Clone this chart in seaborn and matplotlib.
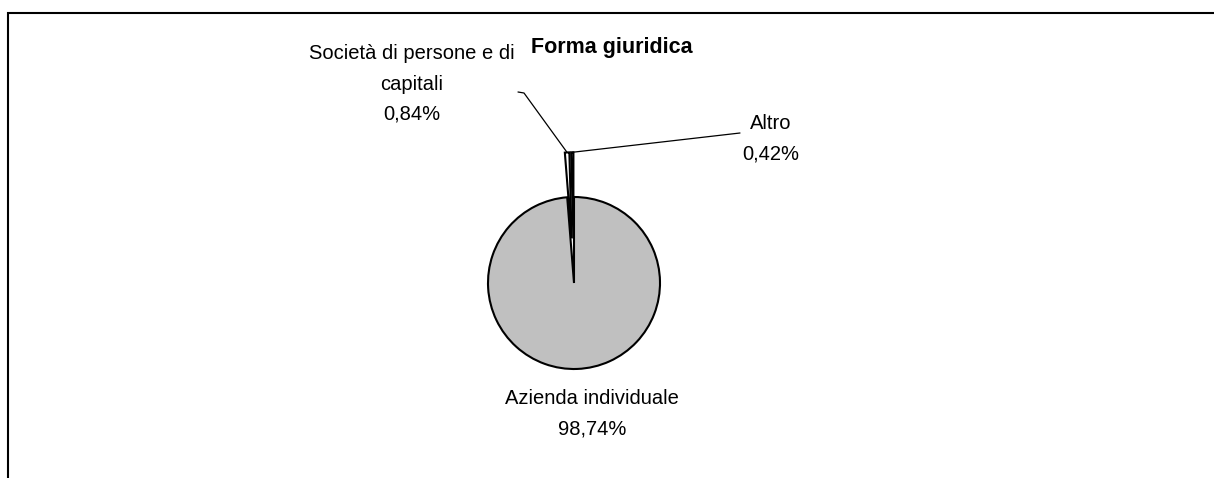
import numpy as np
import matplotlib
matplotlib.use("Agg")
import matplotlib.pyplot as plt
import matplotlib.patches as mpatches
import seaborn as sns

# data
categories = ["Azienda individuale", "Società di persone e di\ncapitali", "Altro"]
shares = [98.74, 0.84, 0.42]
explode = [0.0, 0.52, 0.52]
slice_colors = ["#c0c0c0", "white", "white"]
title = "Forma giuridica"

sns.set_theme(style="white", rc={"text.color": "black"})
plt.rcParams["font.family"] = ["Liberation Sans", "DejaVu Sans"]

W, H = 1214, 478
CX, CY, R = 574, 283, 86   # pie centre / radius in pixels


def px(x, y):
    # pixel (top-left origin) -> data units of the pie axes
    return (x - CX) / R, (CY - y) / R


fig = plt.figure(figsize=(W / 100, H / 100), dpi=100)
ax = fig.add_axes([0, 0, 1, 1])

wedges, _ = ax.pie(shares, explode=explode, colors=slice_colors, startangle=90,
                   counterclock=False, radius=1,
                   wedgeprops={"edgecolor": "black", "linewidth": 1.5})

ax.set_xlim(-CX / R, (W - CX) / R)
ax.set_ylim(-(H - CY) / R, CY / R)
ax.set_aspect("auto")
ax.axis("off")

labels = [f"{c}\n{v:.2f}%".replace(".", ",") for c, v in zip(categories, shares)]
label_pos = [(592, 414), (412, 84), (771, 139)]
leader_ends = [None, [(524, 93), (518, 92)], [(740, 133)]]

for w, lab, pos, ends in zip(wedges, labels, label_pos, leader_ends):
    lx, ly = px(*pos)
    ax.text(lx, ly, lab, ha="center", va="center", multialignment="center",
            fontsize=14.5, linespacing=1.75, color="black")
    if ends is None:
        continue
    mid = np.deg2rad((w.theta1 + w.theta2) / 2)
    sx = w.center[0] + w.r * np.cos(mid)
    sy = w.center[1] + w.r * np.sin(mid)
    xs = [sx] + [px(*e)[0] for e in ends]
    ys = [sy] + [px(*e)[1] for e in ends]
    ax.plot(xs, ys, color="black", linewidth=0.9)

fig.text(612 / W, 1 - 47 / H, title, ha="center", va="center",
         fontsize=15.5, fontweight="bold", color="black")

# chart area border (only top and left edges fall inside the picture)
fig.add_artist(mpatches.Rectangle((8 / W, -0.2), 1.2, 1.2 - 13 / H,
                                  transform=fig.transFigure, fill=False,
                                  edgecolor="black", linewidth=1.5))

fig.savefig("out.png", dpi=100)
